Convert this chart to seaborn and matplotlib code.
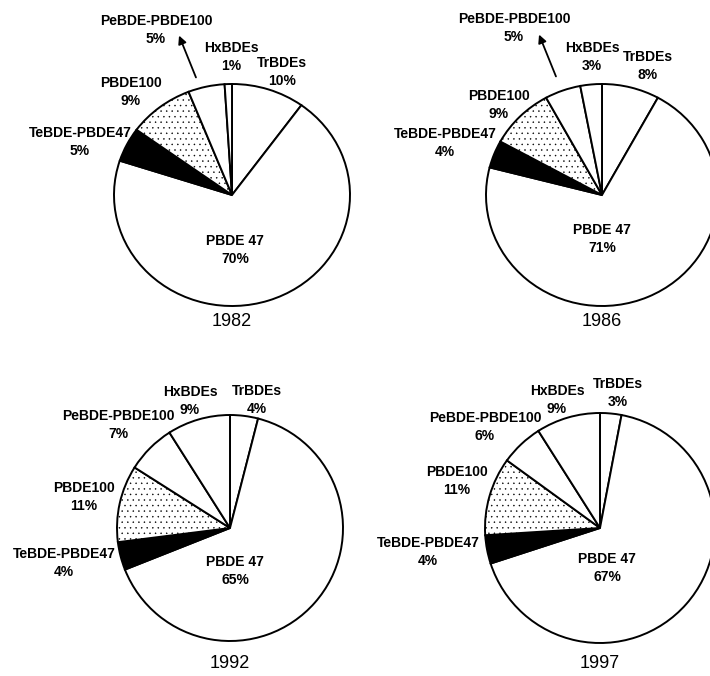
import numpy as np
import matplotlib
matplotlib.use("Agg")
import matplotlib.pyplot as plt
import seaborn as sns

# data (clockwise from 12 o'clock)
congeners = ["TrBDEs", "PBDE 47", "TeBDE-PBDE47", "PBDE100", "PeBDE-PBDE100", "HxBDEs"]
years = ["1982", "1986", "1992", "1997"]
pct_1982 = [10, 70, 5, 9, 5, 1]
pct_1986 = [8, 71, 4, 9, 5, 3]
pct_1992 = [4, 65, 4, 11, 7, 9]
pct_1997 = [3, 67, 4, 11, 6, 9]
all_pct = [pct_1982, pct_1986, pct_1992, pct_1997]

sns.set_theme(style="white")
plt.rcParams["font.family"] = ["Liberation Sans", "DejaVu Sans"]

W, H = 710, 676
fig = plt.figure(figsize=(W / 100, H / 100), dpi=100)

# layout in pixels: pie centres, radii (x, y), label offsets (dx right, dy up)
centres = [(232, 195), (602, 195), (230, 528), (600, 528)]
radii = [(118, 111), (116, 111), (113, 113), (115, 115)]
label_off = [
    [(50, 123), (3, -55), (-152, 53), (-101, 103), (-76, 165), (-1, 138)],
    [(46, 129), (0, -44), (-157, 52), (-103, 90), (-88, 167), (-10, 138)],
    [(27, 128), (5, -43), (-166, -35), (-146, 31), (-112, 103), (-40, 127)],
    [(18, 135), (7, -40), (-172, -24), (-143, 47), (-115, 101), (-43, 128)],
]
arrows = [((-35, 115), (-54, 162)), ((-45, 116), (-64, 163)), None, None]
year_dy = [-127, -127, -135, -135]

faces = ["white", "white", "black", "white", "white", "white"]
hatches = [None, None, None, "...", None, None]
plt.rcParams["hatch.linewidth"] = 0.3

pad = 1.1
for i, (cx, cy) in enumerate(centres):
    rx, ry = radii[i]
    ax = fig.add_axes([(cx - pad * rx) / W, (H - cy - pad * ry) / H,
                       2 * pad * rx / W, 2 * pad * ry / H])
    wedges, _ = ax.pie(all_pct[i], startangle=90, counterclock=False, radius=1,
                       wedgeprops=dict(edgecolor="black", linewidth=1.4))
    for w, fc, h in zip(wedges, faces, hatches):
        w.set_facecolor(fc)
        if h:
            w.set_hatch(h)
            w.set_edgecolor("black")
    ax.set_xlim(-pad, pad)
    ax.set_ylim(-pad, pad)
    ax.set_aspect("auto")
    ax.axis("off")

    for name, val, (dx, dy) in zip(congeners, all_pct[i], label_off[i]):
        ax.text(dx / rx, dy / ry, f"{name}\n{val}%", ha="center", va="center",
                fontsize=10, fontweight="bold", linespacing=1.3, color="black",
                clip_on=False)
    if arrows[i] is not None:
        (tx, ty), (hx, hy) = arrows[i]
        ax.annotate("", xy=(hx / rx, hy / ry), xytext=(tx / rx, ty / ry),
                    arrowprops=dict(arrowstyle="-|>", color="black", lw=1.3,
                                    mutation_scale=12), annotation_clip=False)
    ax.text(0, year_dy[i] / ry, years[i], ha="center", va="center",
            fontsize=13, color="black", clip_on=False)

fig.savefig("out.png", dpi=100)
